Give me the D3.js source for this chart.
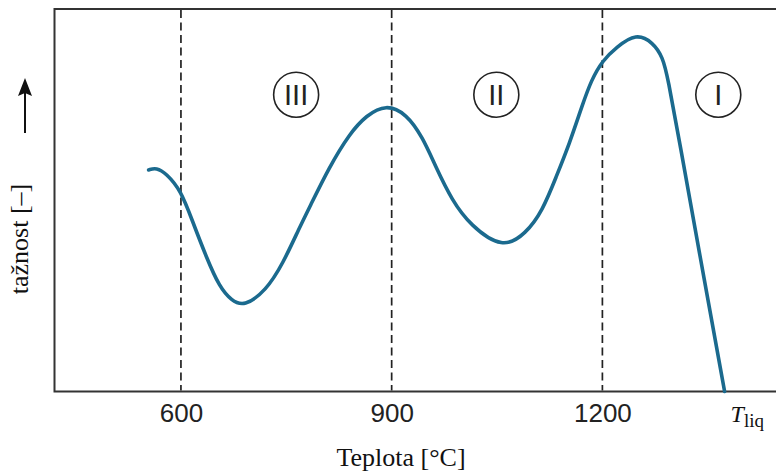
<!DOCTYPE html>
<html>
<head>
<meta charset="utf-8">
<script src="https://cdn.jsdelivr.net/npm/d3@7"></script>
<style>
  html, body { margin: 0; padding: 0; background: #fff; }
  svg { display: block; }
</style>
</head>
<body>
<svg id="chart" width="776" height="473"></svg>
<script>
// ---- data ----
const temperature = [554, 565, 579, 600, 616, 636, 655, 672, 690, 721, 745, 769, 783, 811, 840, 864, 892, 921, 944, 963, 986, 1012, 1058, 1091, 1115, 1134, 1153, 1172, 1184, 1200, 1220, 1248, 1272, 1286, 1293, 1310, 1338, 1374];
const ductility   = [58.0, 58.6, 57.1, 52.6, 44.8, 35.2, 27.3, 23.8, 22.2, 26.4, 33.4, 43.0, 48.2, 58.7, 67.5, 72.3, 75.2, 72.7, 66.6, 58.7, 50.0, 43.5, 37.3, 41.3, 47.4, 56.1, 64.8, 75.3, 81.4, 86.6, 90.1, 93.8, 91.4, 87.5, 82.3, 65.2, 36.4, 0];
const tickValues = [600, 900, 1200];
const tickLabels = ["600", "900", "1200"];
const tLiq = 1374;
const regionLabels = ["III", "II", "I"];
const regionCenters = [764, 1049, 1365];
const regionLevel = 77.7;

// ---- layout ----
const svg = d3.select("#chart");
const mLeft = 54.5, mTop = 9, mBottom = 391.5, mRight = 778;
const x = d3.scaleLinear().domain([420, 1450]).range([mLeft, mRight]);
const y = d3.scaleLinear().domain([0, 100]).range([mBottom, mTop + 0.5]);
const curveColor = "#1b6a8e";

// frame (left, top, bottom)
svg.append("path")
  .attr("d", `M${mRight},${mTop} H${mLeft} V${mBottom} H${mRight}`)
  .attr("fill", "none").attr("stroke", "#333").attr("stroke-width", 2);

// dashed verticals
svg.selectAll("line.dash").data(tickValues).enter().append("line")
  .attr("class", "dash")
  .attr("x1", d => x(d)).attr("x2", d => x(d))
  .attr("y1", mTop + 1).attr("y2", mBottom - 1)
  .attr("stroke", "#222").attr("stroke-width", 1.7)
  .attr("stroke-dasharray", "8,4.5");

// x axis labels
const axis = d3.axisBottom(x).tickValues(tickValues)
  .tickFormat((d, i) => tickLabels[i]).tickSize(0).tickPadding(0);
const gAxis = svg.append("g").attr("transform", `translate(0,${mBottom})`).call(axis);
gAxis.select(".domain").remove();
gAxis.selectAll("text")
  .attr("dy", null).attr("y", 30)
  .attr("fill", "#222")
  .style("font-family", "'Liberation Sans', Arial, sans-serif")
  .style("font-size", "26px");

// T_liq label
const tl = svg.append("text")
  .attr("x", x(tLiq) + 6).attr("y", 422)
  .attr("fill", "#111")
  .style("font-family", "'Liberation Serif', 'DejaVu Serif', serif");
tl.append("tspan").text("T").style("font-style", "italic").style("font-size", "24px");
tl.append("tspan").text("liq").attr("dy", 5).style("font-size", "19px");

// axis titles
svg.append("text")
  .attr("x", 401).attr("y", 466)
  .attr("text-anchor", "middle")
  .attr("fill", "#111")
  .style("font-family", "'Liberation Serif', serif")
  .style("font-size", "26px")
  .text("Teplota [°C]");

svg.append("text")
  .attr("transform", "translate(28,239) rotate(-90)")
  .attr("text-anchor", "middle")
  .attr("fill", "#111")
  .style("font-family", "'Liberation Serif', serif")
  .style("font-size", "26px")
  .text("tažnost [–]");

// arrow
svg.append("line")
  .attr("x1", 25).attr("x2", 25).attr("y1", 133).attr("y2", 90)
  .attr("stroke", "#111").attr("stroke-width", 2);
svg.append("path")
  .attr("d", "M25,78 L32,96 L25,93 L18,96 Z")
  .attr("fill", "#111");

// region markers
const gR = svg.selectAll("g.reg").data(regionLabels).enter().append("g")
  .attr("class", "reg")
  .attr("transform", (d, i) => `translate(${x(regionCenters[i])},${y(regionLevel)})`);
gR.append("circle").attr("r", 22.5)
  .attr("fill", "none").attr("stroke", "#222").attr("stroke-width", 1.6);
gR.append("text")
  .attr("text-anchor", "middle").attr("y", 10.5)
  .attr("fill", "#222")
  .style("font-family", "'Liberation Sans', Arial, sans-serif")
  .style("font-size", "29px")
  .text(d => d);

// curve
const pts = temperature.map((t, i) => [t, ductility[i]]);
const line = d3.line().x(d => x(d[0])).y(d => y(d[1])).curve(d3.curveBasis);
svg.append("path")
  .datum(pts)
  .attr("d", line)
  .attr("fill", "none")
  .attr("stroke", curveColor)
  .attr("stroke-width", 3.6)
  .attr("stroke-linecap", "round")
  .attr("stroke-linejoin", "round");
</script>
</body>
</html>
